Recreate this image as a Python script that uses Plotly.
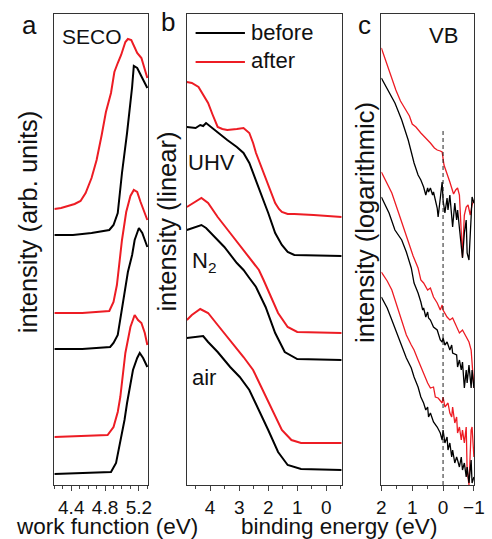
import plotly.graph_objects as go

W, H = 492, 539
RED = "rgb(237,28,36)"
BLK = "#000000"
FONT = "Liberation Sans, Arial, sans-serif"

# ---------------- panel a: SECO (work function, eV / intensity arb. units) ----------------
a_uhv_after_x = [4.20, 4.28, 4.36, 4.44, 4.51, 4.57, 4.64, 4.70, 4.76, 4.81, 4.87, 4.91, 4.95, 4.99, 5.04, 5.07, 5.11, 5.15, 5.18, 5.23, 5.30]
a_uhv_after_y = [276, 277, 279, 281, 284, 292, 307, 325, 350, 373, 392, 413, 422, 430, 443, 446, 445, 437, 432, 427, 407]
a_uhv_before_x = [4.20, 4.42, 4.64, 4.85, 4.90, 4.95, 5.00, 5.06, 5.12, 5.14, 5.18, 5.23, 5.30]
a_uhv_before_y = [250, 250, 252, 255, 260, 272, 312, 352, 398, 419, 417, 408, 397]
a_n2_after_x = [4.20, 4.53, 4.85, 4.90, 4.94, 4.96, 5.00, 5.05, 5.10, 5.14, 5.18, 5.22, 5.30]
a_n2_after_y = [172, 172, 174, 183, 200, 217, 245, 273, 289, 295, 293, 283, 265]
a_n2_before_x = [4.20, 4.53, 4.86, 4.90, 4.95, 4.99, 5.03, 5.07, 5.12, 5.15, 5.20, 5.24, 5.30]
a_n2_before_y = [136, 136, 138, 142, 150, 170, 190, 213, 230, 245, 257, 252, 238]
a_air_after_x = [4.20, 4.53, 4.83, 4.90, 4.95, 4.98, 5.04, 5.10, 5.15, 5.19, 5.23, 5.27, 5.30]
a_air_after_y = [48, 49, 50, 58, 73, 88, 132, 158, 170, 165, 162, 152, 140]
a_air_before_x = [4.20, 4.53, 4.87, 4.93, 4.98, 5.03, 5.06, 5.13, 5.18, 5.21, 5.25, 5.30]
a_air_before_y = [11, 12, 13, 22, 42, 65, 82, 115, 127, 132, 127, 118]

# ---------------- panel b: valence region, linear (binding energy, eV) ----------------
b_uhv_after_x = [4.80, 4.63, 4.40, 4.24, 4.07, 3.91, 3.74, 3.58, 3.41, 3.08, 2.85, 2.65, 2.52, 2.42, 2.26, 2.09, 1.93, 1.76, 1.63, 1.53, 1.33, 1.10, 0.44, -0.53]
b_uhv_after_y = [403, 402, 398, 390, 382, 370, 358, 356, 355, 356, 357, 352, 342, 332, 320, 308, 295, 282, 276, 273, 271, 271, 270, 268]
b_uhv_before_x = [4.80, 4.50, 4.34, 4.24, 4.14, 3.97, 3.81, 3.41, 3.08, 2.85, 2.65, 2.42, 2.19, 2.00, 1.76, 1.53, 1.33, 1.10, -0.53]
b_uhv_before_y = [358, 357, 360, 359, 362, 358, 354, 345, 338, 332, 322, 305, 288, 272, 252, 240, 233, 230, 229]
b_n2_after_x = [4.80, 4.57, 4.30, 4.07, 3.74, 3.31, 2.85, 2.42, 2.32, 2.16, 2.00, 1.66, 1.33, 1.00, -0.53]
b_n2_after_y = [278, 282, 287, 282, 268, 252, 235, 218, 215, 205, 195, 172, 158, 153, 152]
b_n2_before_x = [4.80, 4.57, 4.30, 4.14, 3.97, 3.51, 3.08, 2.85, 2.65, 2.42, 2.09, 1.76, 1.43, 1.00, -0.53]
b_n2_before_y = [255, 257, 260, 257, 252, 238, 222, 215, 207, 198, 178, 152, 133, 126, 125]
b_air_after_x = [4.80, 4.63, 4.34, 4.07, 3.74, 3.31, 2.85, 2.52, 2.19, 1.86, 1.53, 1.20, 0.87, -0.53]
b_air_after_y = [165, 170, 176, 172, 160, 145, 128, 115, 95, 75, 55, 45, 42, 42]
b_air_before_x = [4.80, 4.40, 4.24, 4.07, 3.74, 3.31, 2.98, 2.65, 2.32, 2.00, 1.66, 1.33, 0.87, -0.53]
b_air_before_y = [147, 148, 149, 143, 133, 118, 108, 95, 75, 55, 33, 20, 16, 15]

# ---------------- panel c: VB onset, logarithmic (binding energy, eV) ----------------
c_uhv_after_x = [2.00, 1.84, 1.69, 1.53, 1.38, 1.22, 1.09, 1.00, 0.88, 0.72, 0.56, 0.41, 0.28, 0.19, 0.09, 0.03, -0.03, -0.09, -0.16, -0.22, -0.28, -0.34, -0.41, -0.47, -0.53, -0.56, -0.59, -0.63, -0.66, -0.69, -0.75, -0.81, -0.88, -0.94, -1.00]
c_uhv_after_y = [437, 423, 408, 395, 384, 376, 369, 361, 358, 352, 347, 342, 337, 335, 334, 333, 320, 315, 310, 303, 297, 291, 295, 297, 290, 270, 245, 228, 250, 270, 278, 280, 270, 280, 285]
c_uhv_before_x = [2.00, 1.75, 1.56, 1.34, 1.13, 1.03, 0.94, 0.81, 0.72, 0.63, 0.56, 0.50, 0.47, 0.41, 0.34, 0.31, 0.25, 0.19, 0.16, 0.09, 0.03, 0.00, -0.06, -0.13, -0.16, -0.22, -0.28, -0.31, -0.38, -0.44, -0.47, -0.53, -0.59, -0.63, -0.69, -0.75, -0.78, -0.84, -0.91, -0.94, -1.00]
c_uhv_before_y = [407, 392, 382, 365, 345, 333, 322, 310, 305, 298, 290, 297, 293, 297, 290, 293, 285, 277, 268, 285, 303, 285, 272, 287, 275, 290, 268, 258, 282, 265, 275, 255, 235, 227, 252, 265, 232, 225, 268, 288, 282]
c_n2_after_x = [2.00, 1.81, 1.66, 1.44, 1.28, 1.13, 0.97, 0.81, 0.72, 0.63, 0.50, 0.41, 0.31, 0.19, 0.09, 0.03, 0.00, -0.13, -0.22, -0.31, -0.44, -0.53, -0.63, -0.75, -0.84, -0.91, -0.94, -1.00]
c_n2_after_y = [313, 302, 292, 272, 257, 242, 229, 217, 205, 202, 195, 197, 188, 182, 175, 180, 175, 168, 165, 167, 157, 152, 155, 148, 143, 135, 122, 97]
c_n2_before_x = [2.00, 1.75, 1.56, 1.34, 1.19, 1.03, 0.94, 0.81, 0.72, 0.66, 0.63, 0.56, 0.50, 0.47, 0.41, 0.31, 0.19, 0.09, 0.03, 0.00, -0.06, -0.13, -0.22, -0.28, -0.31, -0.44, -0.47, -0.53, -0.59, -0.63, -0.69, -0.75, -0.78, -0.84, -0.91, -0.94, -1.00]
c_n2_before_y = [288, 272, 255, 245, 233, 217, 202, 192, 183, 175, 177, 168, 173, 167, 165, 158, 155, 145, 143, 147, 140, 143, 135, 140, 132, 130, 118, 125, 115, 123, 97, 115, 102, 120, 97, 115, 97]
c_air_after_x = [2.00, 1.81, 1.66, 1.50, 1.34, 1.19, 1.03, 0.94, 0.81, 0.72, 0.59, 0.50, 0.41, 0.31, 0.25, 0.16, 0.03, 0.00, -0.06, -0.16, -0.22, -0.28, -0.31, -0.38, -0.44, -0.47, -0.53, -0.59, -0.63, -0.69, -0.75, -0.78, -0.84, -0.91, -0.94, -1.00]
c_air_after_y = [213, 204, 195, 180, 165, 150, 140, 135, 125, 118, 108, 102, 97, 98, 88, 87, 82, 88, 78, 82, 72, 68, 78, 62, 68, 52, 58, 45, 55, 42, 58, 15, 0, 55, 58, 28]
c_air_before_x = [2.00, 1.81, 1.66, 1.50, 1.34, 1.19, 1.03, 0.94, 0.81, 0.72, 0.63, 0.56, 0.50, 0.47, 0.41, 0.31, 0.19, 0.09, 0.03, 0.00, -0.06, -0.13, -0.16, -0.22, -0.28, -0.31, -0.38, -0.44, -0.47, -0.53, -0.59, -0.63, -0.69, -0.75, -0.78, -0.84, -0.91, -0.94, -1.00]
c_air_before_y = [188, 177, 165, 152, 138, 127, 117, 108, 98, 88, 82, 75, 78, 68, 72, 63, 58, 52, 45, 55, 42, 48, 35, 42, 28, 35, 22, 28, 25, 18, 28, 15, 22, 8, 18, 2, 25, 2, 8]

fermi_x = [0, 0]
fermi_y = [0, 355]

labels_b = ["UHV", "N<sub>2</sub>", "air"]
legend_names = ["before", "after"]

fig = go.Figure()

def add(x, y, color, ax, width):
    fig.add_trace(go.Scatter(x=x, y=y, mode="lines", line=dict(color=color, width=width),
                             xaxis=ax, yaxis=ax.replace("x", "y"), showlegend=False, hoverinfo="skip"))

add(a_uhv_after_x, a_uhv_after_y, RED, "x", 2)
add(a_uhv_before_x, a_uhv_before_y, BLK, "x", 2)
add(a_n2_after_x, a_n2_after_y, RED, "x", 2)
add(a_n2_before_x, a_n2_before_y, BLK, "x", 2)
add(a_air_after_x, a_air_after_y, RED, "x", 2)
add(a_air_before_x, a_air_before_y, BLK, "x", 2)

add(b_uhv_after_x, b_uhv_after_y, RED, "x2", 2)
add(b_uhv_before_x, b_uhv_before_y, BLK, "x2", 2)
add(b_n2_after_x, b_n2_after_y, RED, "x2", 2)
add(b_n2_before_x, b_n2_before_y, BLK, "x2", 2)
add(b_air_after_x, b_air_after_y, RED, "x2", 2)
add(b_air_before_x, b_air_before_y, BLK, "x2", 2)

add(c_uhv_after_x, c_uhv_after_y, RED, "x3", 1.3)
add(c_uhv_before_x, c_uhv_before_y, BLK, "x3", 1.3)
add(c_n2_after_x, c_n2_after_y, RED, "x3", 1.3)
add(c_n2_before_x, c_n2_before_y, BLK, "x3", 1.3)
add(c_air_after_x, c_air_after_y, RED, "x3", 1.3)
add(c_air_before_x, c_air_before_y, BLK, "x3", 1.3)
fig.add_trace(go.Scatter(x=fermi_x, y=fermi_y, mode="lines", line=dict(color="#222", width=1, dash="4px,3px"),
                         xaxis="x3", yaxis="y3", showlegend=False, hoverinfo="skip"))

def px(x, y):
    return x / W, 1 - y / H

top, bot = 14, 485
ydom = [1 - bot / H, 1 - top / H]
frame = dict(showline=True, linecolor="#333", linewidth=1, mirror=True, showgrid=False, zeroline=False)
tickf = dict(family=FONT, size=19, color="#111")

fig.update_layout(
    width=W, height=H, margin=dict(l=0, r=0, t=0, b=0),
    paper_bgcolor="white", plot_bgcolor="white", font=dict(family=FONT, color="#111"),
    xaxis=dict(domain=[51 / W, 148 / W], range=[4.2, 5.31], tick0=4.4, dtick=0.4, ticks="outside", ticklen=5,
               tickfont=tickf, minor=dict(dtick=0.1, tick0=4.4, ticks="outside", ticklen=3), anchor="y", **frame),
    yaxis=dict(domain=ydom, range=[0, 471], showticklabels=False, ticks="", anchor="x", **frame),
    xaxis2=dict(domain=[188 / W, 348 / W], range=[4.8, -0.53], tick0=0, dtick=1, ticks="outside", ticklen=5,
                tickfont=tickf, minor=dict(dtick=0.5, ticks="outside", ticklen=3), anchor="y2", **frame),
    yaxis2=dict(domain=ydom, range=[0, 471], showticklabels=False, ticks="", anchor="x2", **frame),
    xaxis3=dict(domain=[389 / W, 485 / W], range=[2, -1.01], tick0=0, dtick=1, ticks="outside", ticklen=5,
                tickfont=tickf, minor=dict(dtick=0.5, ticks="outside", ticklen=3), anchor="y3", **frame),
    yaxis3=dict(domain=ydom, range=[0, 471], showticklabels=False, ticks="", anchor="x3", **frame),
)

ann = []
def text(t, x, y, size, xanchor="center", angle=0):
    xp, yp = px(x, y)
    ann.append(dict(text=t, x=xp, y=yp, xref="paper", yref="paper", xanchor=xanchor, yanchor="middle",
                    showarrow=False, textangle=angle, font=dict(family=FONT, size=size, color="#111")))

text("a", 25, 25, 26)
text("b", 168, 22, 26)
text("c", 372, 25, 26)
text("SECO", 57, 36, 21, "left")
text("VB", 453, 35, 22)
text("intensity (arb. units)", 24, 222, 25.5, angle=-90)
text("intensity (linear)", 167, 222, 25.5, angle=-90)
text("intensity (logarithmic)", 372, 222, 25.5, angle=-90)
text("work function (eV)", 105, 526, 22.5)
text("binding energy (eV)", 345, 526, 22.5)
text(labels_b[0], 187, 162, 22, "left")
text(labels_b[1], 191, 262, 22, "left")
text(labels_b[2], 191, 377, 22, "left")
text(legend_names[0], 252, 32, 22, "left")
text(legend_names[1], 252, 61, 22, "left")
fig.update_layout(annotations=ann)

shapes = []
for yy, col in [(33, BLK), (62, RED)]:
    x0, y0 = px(197, yy)
    x1, _ = px(248, yy)
    shapes.append(dict(type="line", xref="paper", yref="paper", x0=x0, x1=x1, y0=y0, y1=y0,
                       line=dict(color=col, width=2)))
fig.update_layout(shapes=shapes)

fig.write_html("out.html", config={"displayModeBar": False},
               post_script="document.body.style.margin='0px';document.body.style.overflow='hidden';")
